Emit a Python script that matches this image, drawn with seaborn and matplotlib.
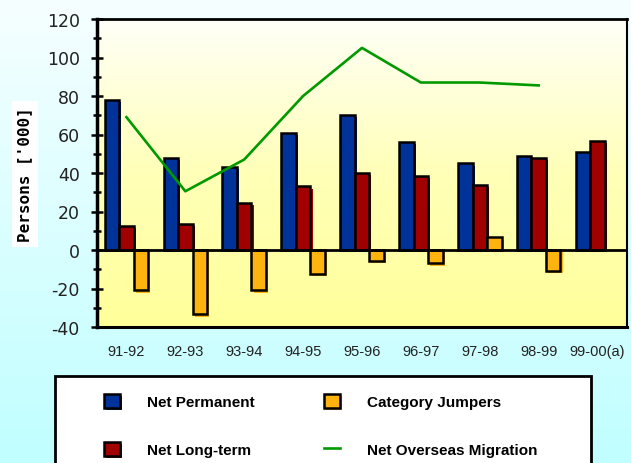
import numpy as np
import pandas as pd
import matplotlib
matplotlib.use("Agg")
import matplotlib.pyplot as plt
import seaborn as sns
from matplotlib import patheffects as pe
from matplotlib.colors import LinearSegmentedColormap
from matplotlib.patches import Rectangle, Patch
from matplotlib.lines import Line2D
from matplotlib.ticker import MultipleLocator

plt.rcParams["axes.unicode_minus"] = False

# ---------------- data ----------------
years = ["91-92", "92-93", "93-94", "94-95", "95-96", "96-97", "97-98", "98-99", "99-00(a)"]
net_permanent = [78, 48, 43, 61, 70, 56, 45, 49, 51]
net_long_term = [12.5, 13.5, 24.5, 33, 40, 38.5, 34, 48, 56.5]
category_jumpers = [-21, -33.5, -21, -12.5, -5.5, -7, 6.5, -11, np.nan]
net_overseas = [69, 30.5, 47, 80, 105, 87, 87, 85.5]
series_names = ["Net Permanent", "Net Long-term", "Category Jumpers"]
line_name = "Net Overseas Migration"
y_label = "Persons ['000]"

colors = ["#003399", "#a00000", "#ffb30f"]
line_color = "#009a00"

df = pd.DataFrame({
    "Year": years * 3,
    "Series": [series_names[0]] * len(years) + [series_names[1]] * len(years) + [series_names[2]] * len(years),
    "Value": net_permanent + net_long_term + category_jumpers,
}).dropna()

W, H = 631, 464
fig = plt.figure(figsize=(W / 100, H / 100), dpi=100)

# figure background gradient (light cyan)
bg = fig.add_axes([0, 0, 1, 1], zorder=-5)
bg_cmap = LinearSegmentedColormap.from_list("bg", ["#f6feff", "#c0ffff"])
bg.imshow(np.linspace(0, 1, 256).reshape(-1, 1), aspect="auto", cmap=bg_cmap,
          extent=[0, 1, 0, 1], origin="upper")
bg.axis("off")

ax = fig.add_axes([97 / W, 1 - 328 / H, (627 - 97) / W, (328 - 20) / H], zorder=1)
ax.patch.set_alpha(0)

# plot area gradient (cream to yellow)
pa_cmap = LinearSegmentedColormap.from_list("pa", ["#fffff8", "#ffffb8", "#ffff9a"])
ax.imshow(np.linspace(0, 1, 256).reshape(-1, 1), aspect="auto", cmap=pa_cmap,
          extent=[0, 1, 0, 1], origin="upper", transform=ax.transAxes, zorder=0)

sns.barplot(data=df, x="Year", y="Value", hue="Series", order=years,
            hue_order=series_names, palette=colors, saturation=1, width=0.74,
            edgecolor="black", linewidth=1.8, legend=False, ax=ax, zorder=2)

for cont, c in zip(ax.containers, colors):
    for bar in cont:
        bar.set_path_effects([pe.SimplePatchShadow(offset=(1.6, -1.6), shadow_rgbFace=c, alpha=1.0),
                              pe.Normal()])

sns.lineplot(x=np.arange(len(net_overseas)), y=net_overseas, color=line_color,
             linewidth=1.9, ax=ax, zorder=4)

ax.axhline(0, color="black", linewidth=2, zorder=5)

ax.set_xlim(-0.5, len(years) - 0.5)
ax.set_ylim(-40, 120)
ax.yaxis.set_major_locator(MultipleLocator(20))
ax.yaxis.set_minor_locator(MultipleLocator(10))
ax.tick_params(axis="y", which="major", direction="inout", length=9, width=1.8,
               labelsize=12.5, pad=8, colors="black")
ax.tick_params(axis="y", which="minor", direction="inout", length=6, width=1.8)
ax.tick_params(axis="x", length=0, pad=12)
for lab in ax.get_xticklabels():
    lab.set_fontfamily("Liberation Sans")
    lab.set_fontsize(10.5)
    lab.set_color("#222222")
for lab in ax.get_yticklabels():
    lab.set_color("#222222")
ax.set_xlabel("")
ax.set_ylabel("")
for side, lw in [("left", 2.5), ("bottom", 2.2), ("top", 2.0), ("right", 1.5)]:
    ax.spines[side].set_color("black")
    ax.spines[side].set_linewidth(lw)
    ax.spines[side].set_zorder(6)

# y-axis label with white box
fig.text(25 / W, 1 - 175 / H, y_label, rotation=90, ha="center", va="center",
         family="DejaVu Sans Mono", weight="bold", fontsize=11.5, color="black",
         bbox=dict(facecolor="white", edgecolor="none", pad=4))

# legend box
fig.add_artist(Rectangle((55 / W, -0.05), (591 - 55) / W, (H - 377) / H + 0.05,
                         transform=fig.transFigure, facecolor="white",
                         edgecolor="black", linewidth=2, zorder=2))

handles = [Patch(facecolor=colors[0], edgecolor="black", linewidth=1.8),
           Patch(facecolor=colors[1], edgecolor="black", linewidth=1.8),
           Patch(facecolor=colors[2], edgecolor="black", linewidth=1.8),
           Line2D([], [], color=line_color, linewidth=1.9)]
for h, c in zip(handles[:3], colors):
    h.set_path_effects([pe.SimplePatchShadow(offset=(1.4, -1.4), shadow_rgbFace=c, alpha=1.0),
                        pe.Normal()])
labels = [series_names[0], series_names[1], series_names[2], line_name]
leg = fig.legend(handles, labels, ncol=2, loc="upper left",
                 bbox_to_anchor=(104 / W, 1 - 395 / H), frameon=False,
                 prop=dict(family="Liberation Sans", weight="bold", size=11),
                 handlelength=1.05, handleheight=1.05, handletextpad=1.75,
                 columnspacing=4.55, labelspacing=2.15, borderpad=0, borderaxespad=0)
leg.set_zorder(3)

fig.savefig("out.png", dpi=100)
